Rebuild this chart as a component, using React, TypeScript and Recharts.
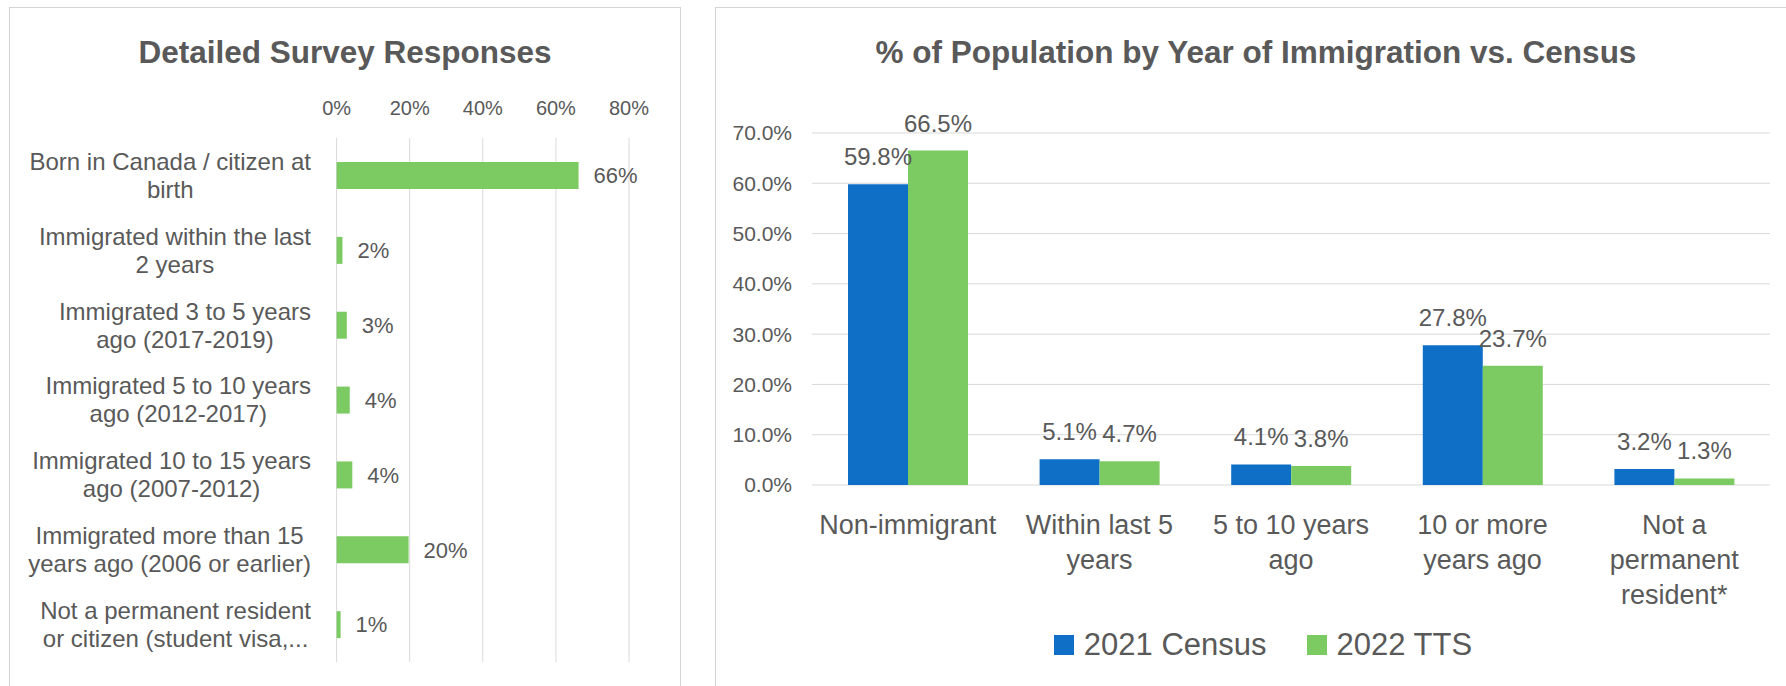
import React from 'react';
import { BarChart, Bar, XAxis, YAxis, CartesianGrid, LabelList } from 'recharts';

const FONT = "'Liberation Sans', Arial, sans-serif";
const TEXT = '#595959';
const GRID = '#D9D9D9';
const BLUE = '#0F6FC6';
const GREEN = '#7CCB62';

// left chart: detailed survey responses
const surveyCategories = [
  'Born in Canada / citizen at\nbirth',
  'Immigrated within the last\n2 years',
  'Immigrated 3 to 5 years\nago (2017-2019)',
  'Immigrated 5 to 10 years\nago (2012-2017)',
  'Immigrated 10 to 15 years\nago (2007-2012)',
  'Immigrated more than 15\nyears ago (2006 or earlier)',
  'Not a permanent resident\nor citizen (student visa,...',
];
const surveyValues = [0.662, 0.016, 0.028, 0.036, 0.043, 0.197, 0.011];
const surveyTicks = [0, 0.2, 0.4, 0.6, 0.8];

// right chart: population by year of immigration
const censusCategories = [
  'Non-immigrant',
  'Within last 5\nyears',
  '5 to 10 years\nago',
  '10 or more\nyears ago',
  'Not a\npermanent\nresident*',
];
const census2021 = [0.598, 0.051, 0.041, 0.278, 0.032];
const tts2022 = [0.665, 0.047, 0.038, 0.237, 0.013];
const censusTicks = [0, 0.1, 0.2, 0.3, 0.4, 0.5, 0.6, 0.7];
const seriesNames = ['2021 Census', '2022 TTS'];

const surveyData = surveyCategories.map((name, i) => ({ name, value: surveyValues[i] }));
const censusData = censusCategories.map((name, i) => ({
  name,
  census: census2021[i],
  tts: tts2022[i],
}));

let ctx: CanvasRenderingContext2D | null = null;
function textWidth(s: string, font: string) {
  if (!ctx) ctx = document.createElement('canvas').getContext('2d');
  if (!ctx) return s.length * 11;
  ctx.font = font;
  return ctx.measureText(s).width;
}

function SurveyTick({ x, y, payload }: any) {
  const lines = String(payload.value).split('\n');
  const w = Math.max(...lines.map((l) => textWidth(l, `24px ${FONT}`)));
  const cx = x - w / 2;
  const start = (-(lines.length - 1) * 28) / 2;
  return (
    <text textAnchor="middle" fill={TEXT} fontSize={24} fontFamily={FONT}>
      {lines.map((l, i) => (
        <tspan key={i} x={cx} y={y + start + i * 28} dy="0.35em">
          {l}
        </tspan>
      ))}
    </text>
  );
}

function CensusTick({ x, y, payload }: any) {
  const lines = String(payload.value).split('\n');
  return (
    <text textAnchor="middle" fill={TEXT} fontSize={27} fontFamily={FONT}>
      {lines.map((l, i) => (
        <tspan key={i} x={x} y={y + 40 + i * 35} dy="0.35em">
          {l}
        </tspan>
      ))}
    </text>
  );
}

const pct0 = (v: any) => `${Math.round(Number(v) * 100)}%`;
const pct1 = (v: any) => `${(Number(v) * 100).toFixed(1)}%`;

export default function App() {
  return (
    <div
      style={{
        position: 'absolute',
        left: 0,
        top: 0,
        width: 1786,
        height: 686,
        overflow: 'hidden',
        background: '#fff',
        fontFamily: FONT,
      }}
    >
      {/* panel borders */}
      <div style={{ position: 'absolute', left: 9, top: 7, width: 670, height: 720, border: '1px solid #D4D4D4' }} />
      <div style={{ position: 'absolute', left: 715, top: 7, width: 1100, height: 720, border: '1px solid #D4D4D4' }} />

      <div style={{ position: 'absolute', left: 0, top: 0 }}>
        <BarChart
          width={680}
          height={686}
          data={surveyData}
          layout="vertical"
          margin={{ top: 98, right: 51, bottom: 24, left: 0 }}
        >
          <CartesianGrid horizontal={false} stroke={GRID} />
          <XAxis
            type="number"
            orientation="top"
            domain={[0, 0.8]}
            ticks={surveyTicks}
            tickFormatter={pct0}
            axisLine={false}
            tickLine={false}
            tickSize={0}
            tickMargin={23}
            height={40}
            tick={{ fill: TEXT, fontSize: 20, fontFamily: FONT }}
          />
          <YAxis
            type="category"
            dataKey="name"
            width={336.6}
            axisLine={false}
            tickLine={false}
            tickSize={0}
            tickMargin={25.6}
            tick={<SurveyTick />}
            interval={0}
          />
          <Bar dataKey="value" fill={GREEN} barSize={27} isAnimationActive={false}>
            <LabelList
              dataKey="value"
              position="right"
              offset={15}
              formatter={pct0}
              fill={TEXT}
              fontSize={22}
              fontFamily={FONT}
            />
          </Bar>
        </BarChart>
      </div>

      <div style={{ position: 'absolute', left: 715, top: 0 }}>
        <BarChart
          width={1071}
          height={686}
          data={censusData}
          margin={{ top: 133, right: 16, bottom: 81, left: 0 }}
          barGap={0}
        >
          <CartesianGrid vertical={false} stroke={GRID} />
          <XAxis
            dataKey="name"
            axisLine={false}
            tickLine={false}
            tickSize={0}
            tickMargin={0}
            height={120}
            interval={0}
            tick={<CensusTick />}
          />
          <YAxis
            domain={[0, 0.7]}
            ticks={censusTicks}
            tickFormatter={pct1}
            axisLine={false}
            tickLine={false}
            tickSize={0}
            tickMargin={20}
            width={97}
            tick={{ fill: TEXT, fontSize: 21, fontFamily: FONT }}
          />
          <Bar dataKey="census" name={seriesNames[0]} fill={BLUE} barSize={60} isAnimationActive={false}>
            <LabelList dataKey="census" position="top" offset={19} formatter={pct1} fill={TEXT} fontSize={24} fontFamily={FONT} />
          </Bar>
          <Bar dataKey="tts" name={seriesNames[1]} fill={GREEN} barSize={60} isAnimationActive={false}>
            <LabelList dataKey="tts" position="top" offset={19} formatter={pct1} fill={TEXT} fontSize={24} fontFamily={FONT} />
          </Bar>
        </BarChart>
      </div>

      {/* titles */}
      <svg
        width={1786}
        height={686}
        style={{ position: 'absolute', left: 0, top: 0, pointerEvents: 'none' }}
      >
        <text x={345} y={63} textAnchor="middle" fill={TEXT} fontSize={31.5} fontWeight="bold" fontFamily={FONT}>
          Detailed Survey Responses
        </text>
        <text x={1256} y={63} textAnchor="middle" fill={TEXT} fontSize={31.5} fontWeight="bold" fontFamily={FONT}>
          % of Population by Year of Immigration vs. Census
        </text>
      </svg>

      {/* legend */}
      <div
        style={{
          position: 'absolute',
          left: 715,
          width: 1096,
          top: 625,
          height: 40,
          display: 'flex',
          justifyContent: 'center',
          alignItems: 'center',
          gap: 40,
          color: TEXT,
          fontSize: 31,
        }}
      >
        {seriesNames.map((n, i) => (
          <div key={n} style={{ display: 'flex', alignItems: 'center' }}>
            <span style={{ width: 20, height: 20, background: i === 0 ? BLUE : GREEN, marginRight: 10 }} />
            <span>{n}</span>
          </div>
        ))}
      </div>
    </div>
  );
}
